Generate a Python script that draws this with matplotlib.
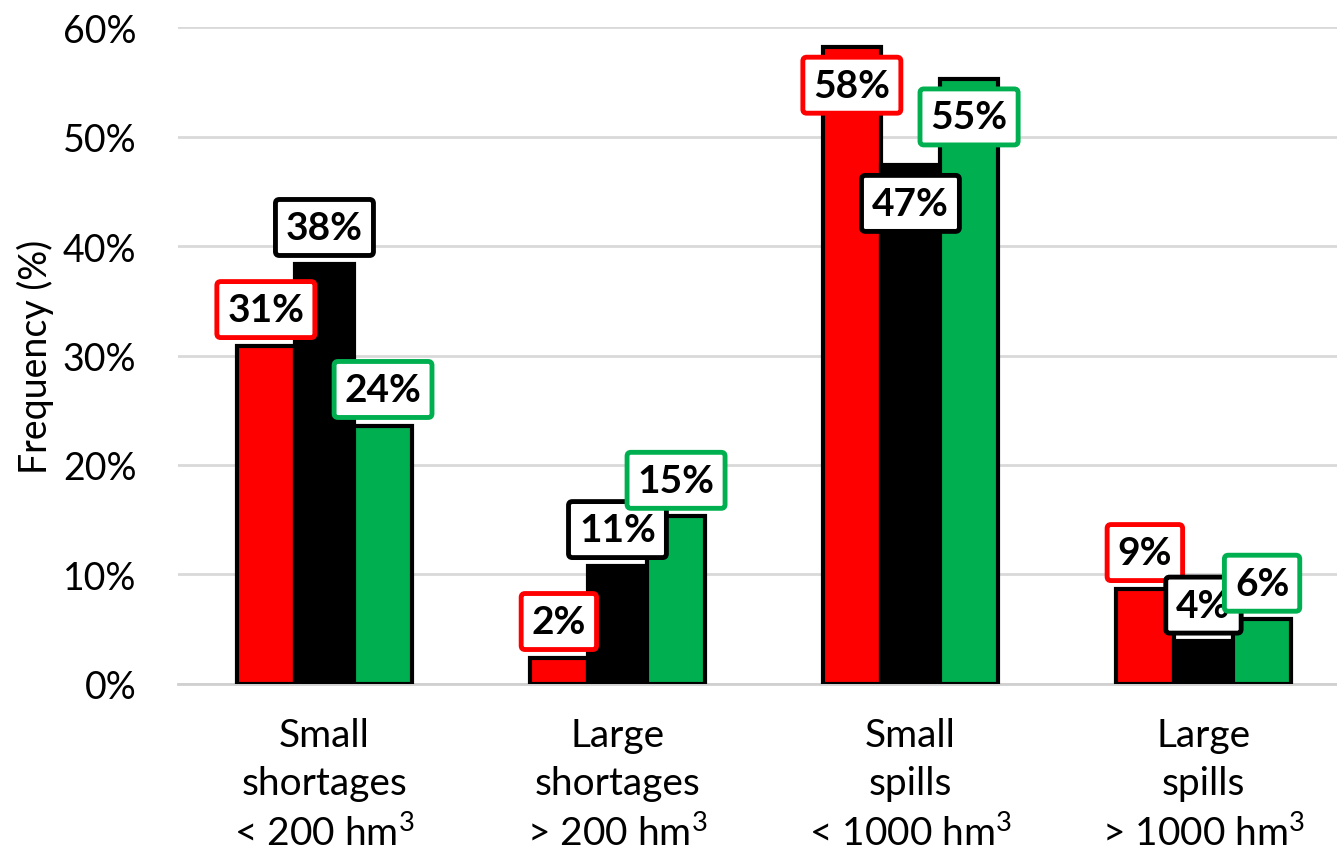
import numpy as np
import matplotlib
matplotlib.use("Agg")
import matplotlib.pyplot as plt

plt.rcParams['font.family'] = ['Lato', 'DejaVu Sans']
plt.rcParams['mathtext.fontset'] = 'custom'
plt.rcParams['mathtext.rm'] = 'Lato'

categories = ["Small\nshortages\n< 200 hm$^3$", "Large\nshortages\n> 200 hm$^3$",
              "Small\nspills\n< 1000 hm$^3$", "Large\nspills\n> 1000 hm$^3$"]
red_vals = [30.9, 2.4, 58.2, 8.7]
black_vals = [38.4, 10.8, 47.4, 3.9]
green_vals = [23.6, 15.3, 55.3, 5.9]
yticks = [0, 10, 20, 30, 40, 50, 60]

series = [(red_vals, "#ff0000"), (black_vals, "#000000"), (green_vals, "#00b050")]

fig = plt.figure(figsize=(13.37, 8.54), dpi=100)
ax = fig.add_axes([0.1331, 0.198, 0.8766, 0.769])

x = np.arange(len(categories))
width = 0.2
for i, (vals, col) in enumerate(series):
    pos = x + (i - 1) * width
    ax.bar(pos, vals, width, color=col, edgecolor="black", linewidth=3, zorder=3)
    for j, (xp, v) in enumerate(zip(pos, vals)):
        # third group's labels sit inside the bars, the rest above
        off = -3.5 if j == 2 else 3.3
        ax.text(xp, v + off, f"{v:.0f}%", ha="center", va="center",
                fontsize=28, fontweight="bold", color="black", zorder=5,
                bbox=dict(boxstyle="round,pad=0.27,rounding_size=0.1",
                          facecolor="white", edgecolor=col, linewidth=3.5))

ax.set_xlim(-0.5, 3.5)
ax.set_ylim(0, 60)
ax.set_yticks(yticks)
ax.set_yticklabels([f"{t}%" for t in yticks], fontsize=27)
ax.set_xticks(x)
ax.set_xticklabels(categories, fontsize=28, linespacing=1.4)
ax.tick_params(axis="x", length=0, pad=24)
ax.tick_params(axis="y", length=0, pad=30)
ax.yaxis.grid(True, color="#d9d9d9", linewidth=2, zorder=0)
ax.set_axisbelow(True)
for s in ["top", "right", "left"]:
    ax.spines[s].set_visible(False)
ax.spines["bottom"].set_color("#d0d0d0")
ax.spines["bottom"].set_linewidth(2)
ax.set_ylabel("Frequency (%)", fontsize=27)
ax.yaxis.set_label_coords(-0.106, 0.5)

fig.savefig("out.png", dpi=100)
